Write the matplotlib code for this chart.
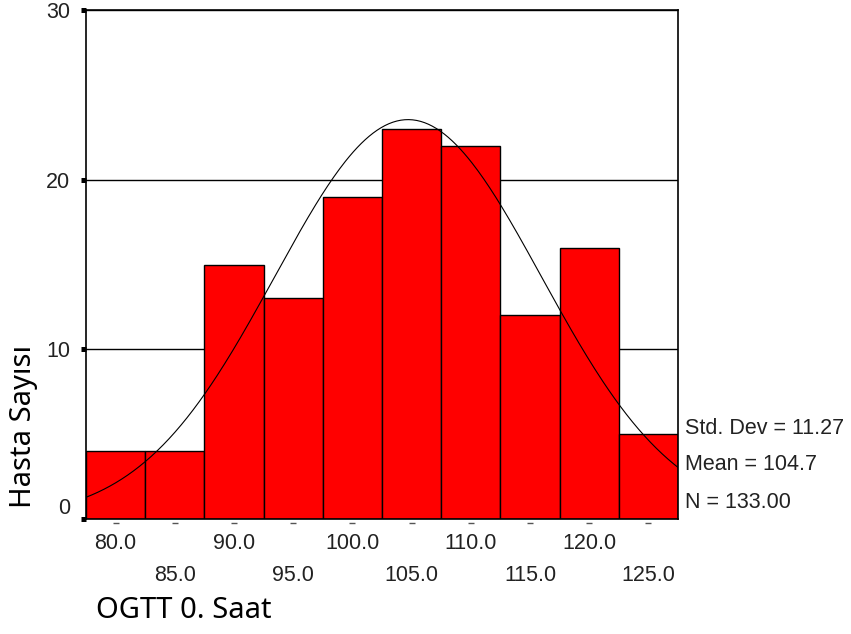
import matplotlib
matplotlib.use('Agg')
import matplotlib.pyplot as plt
import numpy as np

# histogram of OGTT 0. Saat (SPSS style output)
bin_centers = [80.0, 85.0, 90.0, 95.0, 100.0, 105.0, 110.0, 115.0, 120.0, 125.0]
counts = [4, 4, 15, 13, 19, 23, 22, 12, 16, 5]
bin_width = 5.0
std_dev = 11.27
mean = 104.7
n_total = 133
y_ticks = [0, 10, 20, 30]
stat_lines = ['Std. Dev = 11.27', 'Mean = 104.7', 'N = 133.00']

label_font = 'Noto Sans'
tick_font = 'Liberation Sans'

fig = plt.figure(figsize=(8.51, 6.34), dpi=100)
ax = fig.add_axes([0.1011, 0.1814, 0.6956, 0.8028])

centers = np.array(bin_centers)
lo = centers[0] - bin_width / 2
hi = centers[-1] + bin_width / 2

# grid lines behind the bars
for t in y_ticks[1:]:
    ax.axhline(t, color='black', lw=1.0, zorder=0)

ax.bar(centers, counts, width=bin_width, color='#ff0000', edgecolor='black',
       linewidth=1.0, zorder=2)

# normal curve from the reported statistics
xs = np.linspace(lo, hi, 300)
curve = n_total * bin_width / (std_dev * np.sqrt(2 * np.pi)) * \
    np.exp(-0.5 * ((xs - mean) / std_dev) ** 2)
ax.plot(xs, curve, color='black', lw=0.8, zorder=3)

ax.set_xlim(lo, hi)
ax.set_ylim(0, 30)

for side in ['left', 'bottom', 'right', 'top']:
    ax.spines[side].set_color('black')
    ax.spines[side].set_linewidth(1.2)

# y ticks: small black squares
ax.set_yticks(y_ticks)
ax.set_yticklabels([str(t) for t in y_ticks], fontfamily=tick_font, fontsize=15.5,
                   color='#222222')
ax.tick_params(axis='y', direction='out', length=3.6, width=3.6, pad=8,
               color='black')
ax.get_yticklabels()[0].set_va('bottom')

# x tick labels in two staggered rows
ax.set_xticks(centers[::2])
ax.set_xticklabels([f'{c:.1f}' for c in centers[::2]], fontfamily=tick_font,
                   fontsize=15.5, color='#222222')
ax.set_xticks(centers[1::2], minor=True)
ax.set_xticklabels([f'{c:.1f}' for c in centers[1::2]], minor=True,
                   fontfamily=tick_font, fontsize=15.5, color='#222222')
ax.tick_params(axis='x', which='major', length=0, pad=10)
ax.tick_params(axis='x', which='minor', length=0, pad=33)

# little dashes under each bar
ax.scatter(centers, np.full(len(centers), -0.25), marker='_', s=16,
           color='#555555', linewidths=1.0, clip_on=False, zorder=4)

# statistics box text
for i, line in enumerate(stat_lines):
    fig.text(685 / 851, 1 - (428 + 37 * i) / 634, line, fontfamily=tick_font,
             fontsize=15.5, color='#222222', ha='left', va='center')

fig.text(24 / 851, 1 - 508 / 634, 'Hasta Sayısı', rotation=90,
         fontfamily=label_font, fontsize=21, ha='center', va='bottom')
fig.text(96 / 851, 1 - 610 / 634, 'OGTT 0. Saat', fontfamily=label_font,
         fontsize=21, ha='left', va='center')

fig.savefig('out.png', dpi=100)
